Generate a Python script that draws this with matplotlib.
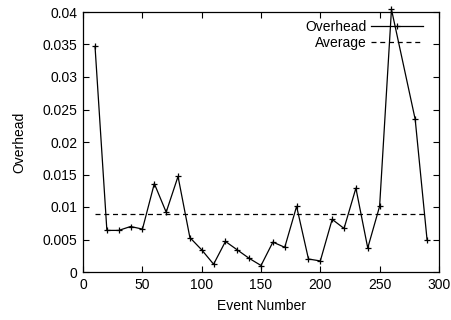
import matplotlib
matplotlib.use("Agg")
import matplotlib.pyplot as plt

plt.rcParams['font.family'] = ['Liberation Sans', 'DejaVu Sans']

# Data
events = [10, 20, 30, 40, 50, 60, 70, 80, 90, 100, 110, 120, 130, 140, 150,
          160, 170, 180, 190, 200, 210, 220, 230, 240, 250, 260, 280, 290]
overhead = [0.0347, 0.0064, 0.0064, 0.0070, 0.0066, 0.0136, 0.0092, 0.0147,
            0.0053, 0.0034, 0.0012, 0.0047, 0.0034, 0.0021, 0.0010, 0.0046,
            0.0038, 0.0101, 0.0020, 0.0017, 0.0081, 0.0067, 0.0129, 0.0037,
            0.0101, 0.0404, 0.0235, 0.0050]
avg_x = [10, 290]
avg_y = [0.009, 0.009]

fig = plt.figure(figsize=(4.52, 3.2), dpi=100)
ax = fig.add_axes([0.184, 0.15, 0.787, 0.8125])

ax.plot(events, overhead, color="black", lw=0.9, marker="+", ms=5,
        mew=0.9, label="Overhead", clip_on=False)
ax.plot(avg_x, avg_y, color="black", lw=0.9, ls=(0, (4, 3)), label="Average")

ax.set_xlim(0, 300)
ax.set_ylim(0, 0.04)
ax.set_xticks(range(0, 301, 50))
ax.set_yticks([0, 0.005, 0.01, 0.015, 0.02, 0.025, 0.03, 0.035, 0.04])
ax.set_yticklabels(["0", "0.005", "0.01", "0.015", "0.02", "0.025", "0.03", "0.035", "0.04"])
ax.tick_params(direction="in", top=True, right=True, labelsize=10, length=4.5, width=0.8, pad=4)
for s in ax.spines.values():
    s.set_linewidth(0.9)

ax.set_xlabel("Event Number", fontsize=10, labelpad=5)
ax.set_ylabel("Overhead", fontsize=10, labelpad=12)

ax.legend(loc="upper right", frameon=False, markerfirst=False, fontsize=10,
          numpoints=1, handlelength=3.7, borderaxespad=0.0, labelspacing=0.15,
          handletextpad=0.3, bbox_to_anchor=(0.97, 0.99))

fig.savefig("out.png", dpi=100)
